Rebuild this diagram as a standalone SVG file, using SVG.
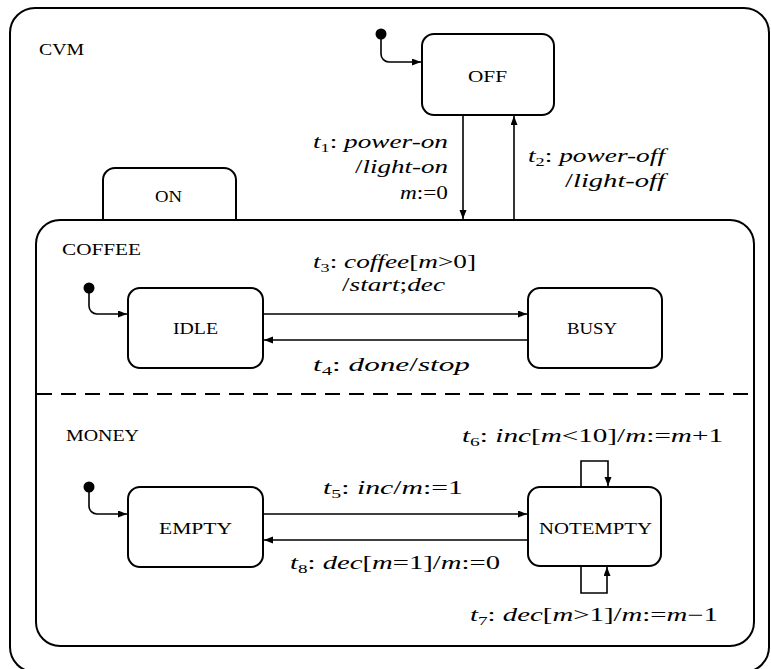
<svg xmlns="http://www.w3.org/2000/svg" width="771" height="669" viewBox="0 0 771 669">
  <style>
    .frame { fill: none; stroke: #000; stroke-width: 2; }
    .state { fill: #fff; stroke: #000; stroke-width: 2; }
    .wire { fill: none; stroke: #000; stroke-width: 1.6; }
    .dash { fill: none; stroke: #000; stroke-width: 2; stroke-dasharray: 15 9; }
    .cap { font-family: "Liberation Serif", "Times New Roman", serif; font-size: 16px; fill: #000; }
    .lab { font-family: "Liberation Serif", "Times New Roman", serif; font-size: 18px; fill: #000; }
    .i { font-style: italic; }
    .sub { font-size: 12px; }
  </style>
  <defs>
    <marker id="arrow" markerUnits="userSpaceOnUse" markerWidth="10" markerHeight="8" refX="9" refY="3.5" orient="auto">
      <path d="M0,0 L9,3.5 L0,7 z" fill="#000"/>
    </marker>
  </defs>

  <rect width="771" height="669" fill="#fff"/>

  <!-- top-level machine -->
  <g id="cvm">
    <rect class="frame" x="10" y="8" width="759" height="664" rx="25" ry="25"/>
    <text class="cap" x="39" y="55" textLength="45" lengthAdjust="spacingAndGlyphs">CVM</text>
  </g>

  <g id="off">
    <rect class="state" x="422" y="34" width="132" height="81" rx="12" ry="12"/>
    <text class="cap" x="468" y="82" textLength="39" lengthAdjust="spacingAndGlyphs">OFF</text>
  </g>

  <!-- composite state with two orthogonal regions -->
  <g id="on">
    <path class="frame" d="M103,220 V180 A12,12 0 0 1 115,168 H224 A12,12 0 0 1 236,180 V220"/>
    <text class="cap" x="155" y="202" textLength="27" lengthAdjust="spacingAndGlyphs">ON</text>
    <rect class="frame" x="36" y="220" width="718" height="426" rx="24" ry="24"/>
    <line class="dash" x1="37" y1="394" x2="753" y2="394"/>
  </g>

  <g id="coffee-region">
    <text class="cap" x="62" y="255" textLength="79" lengthAdjust="spacingAndGlyphs">COFFEE</text>
  </g>
  <g id="money-region">
    <text class="cap" x="66" y="441" textLength="73" lengthAdjust="spacingAndGlyphs">MONEY</text>
  </g>

  <g id="idle">
    <rect class="state" x="128" y="288" width="135" height="80" rx="12" ry="12"/>
    <text class="cap" x="173" y="334" textLength="45" lengthAdjust="spacingAndGlyphs">IDLE</text>
  </g>
  <g id="busy">
    <rect class="state" x="528" y="288" width="134" height="80" rx="12" ry="12"/>
    <text class="cap" x="567" y="334" textLength="50" lengthAdjust="spacingAndGlyphs">BUSY</text>
  </g>
  <g id="empty">
    <rect class="state" x="128" y="487" width="135" height="80" rx="12" ry="12"/>
    <text class="cap" x="159" y="534" textLength="73" lengthAdjust="spacingAndGlyphs">EMPTY</text>
  </g>
  <g id="notempty">
    <rect class="state" x="528" y="487" width="133" height="79" rx="12" ry="12"/>
    <text class="cap" x="539" y="534" textLength="113" lengthAdjust="spacingAndGlyphs">NOTEMPTY</text>
  </g>

  <!-- initial pseudostates -->
  <g id="init-cvm"><circle cx="381" cy="34" r="5.5" fill="#000"/></g>
  <g id="init-coffee"><circle cx="89" cy="288" r="5.5" fill="#000"/></g>
  <g id="init-money"><circle cx="89" cy="487" r="5.5" fill="#000"/></g>

  <!-- transitions -->
  <g id="connectors">
    <path class="wire" d="M381,34 V54 A8,8 0 0 0 389,62 H421" marker-end="url(#arrow)"/>
    <path class="wire" d="M89,288 V306 A8,8 0 0 0 97,314 H127" marker-end="url(#arrow)"/>
    <path class="wire" d="M89,487 V506 A8,8 0 0 0 97,514 H127" marker-end="url(#arrow)"/>

    <!-- t1 / t2 -->
    <line class="wire" x1="463" y1="116" x2="463" y2="219" marker-end="url(#arrow)"/>
    <line class="wire" x1="514" y1="219" x2="514" y2="116" marker-end="url(#arrow)"/>
    <!-- t3 / t4 -->
    <line class="wire" x1="264" y1="314" x2="527" y2="314" marker-end="url(#arrow)"/>
    <line class="wire" x1="527" y1="340" x2="264" y2="340" marker-end="url(#arrow)"/>
    <!-- t5 / t8 -->
    <line class="wire" x1="264" y1="514" x2="527" y2="514" marker-end="url(#arrow)"/>
    <line class="wire" x1="527" y1="540" x2="264" y2="540" marker-end="url(#arrow)"/>
    <!-- t6 / t7 self loops -->
    <path class="wire" d="M581,486 V461 H608 V486" marker-end="url(#arrow)"/>
    <path class="wire" d="M581,567 V593 H607 V567" marker-end="url(#arrow)"/>
  </g>

  <!-- transition labels -->
  <g id="labels">
    <text class="lab" x="313" y="148" textLength="135" lengthAdjust="spacingAndGlyphs"><tspan class="i">t</tspan><tspan class="sub" dy="4">1</tspan><tspan dy="-4">: </tspan><tspan class="i">power-on</tspan></text>
    <text class="lab" x="355" y="173" textLength="93" lengthAdjust="spacingAndGlyphs">/<tspan class="i">light-on</tspan></text>
    <text class="lab" x="400" y="199" textLength="48" lengthAdjust="spacingAndGlyphs"><tspan class="i">m</tspan>:=0</text>

    <text class="lab" x="528" y="162" textLength="137" lengthAdjust="spacingAndGlyphs"><tspan class="i">t</tspan><tspan class="sub" dy="4">2</tspan><tspan dy="-4">: </tspan><tspan class="i">power-off</tspan></text>
    <text class="lab" x="565" y="187" textLength="100" lengthAdjust="spacingAndGlyphs">/<tspan class="i">light-off</tspan></text>

    <text class="lab" x="313" y="268" textLength="163" lengthAdjust="spacingAndGlyphs"><tspan class="i">t</tspan><tspan class="sub" dy="4">3</tspan><tspan dy="-4">: </tspan><tspan class="i">coffee</tspan>[<tspan class="i">m</tspan>&gt;0]</text>
    <text class="lab" x="342" y="291" textLength="103" lengthAdjust="spacingAndGlyphs">/<tspan class="i">start</tspan>;<tspan class="i">dec</tspan></text>

    <text class="lab" x="313" y="371" textLength="157" lengthAdjust="spacingAndGlyphs"><tspan class="i">t</tspan><tspan class="sub" dy="4">4</tspan><tspan dy="-4">: </tspan><tspan class="i">done</tspan>/<tspan class="i">stop</tspan></text>

    <text class="lab" x="462" y="442" textLength="261" lengthAdjust="spacingAndGlyphs"><tspan class="i">t</tspan><tspan class="sub" dy="4">6</tspan><tspan dy="-4">: </tspan><tspan class="i">inc</tspan>[<tspan class="i">m</tspan>&lt;10]/<tspan class="i">m</tspan>:=<tspan class="i">m</tspan>+1</text>

    <text class="lab" x="323" y="494" textLength="140" lengthAdjust="spacingAndGlyphs"><tspan class="i">t</tspan><tspan class="sub" dy="4">5</tspan><tspan dy="-4">: </tspan><tspan class="i">inc</tspan>/<tspan class="i">m</tspan>:=1</text>

    <text class="lab" x="290" y="569" textLength="210" lengthAdjust="spacingAndGlyphs"><tspan class="i">t</tspan><tspan class="sub" dy="4">8</tspan><tspan dy="-4">: </tspan><tspan class="i">dec</tspan>[<tspan class="i">m</tspan>=1]/<tspan class="i">m</tspan>:=0</text>

    <text class="lab" x="470" y="621" textLength="248" lengthAdjust="spacingAndGlyphs"><tspan class="i">t</tspan><tspan class="sub" dy="4">7</tspan><tspan dy="-4">: </tspan><tspan class="i">dec</tspan>[<tspan class="i">m</tspan>&gt;1]/<tspan class="i">m</tspan>:=<tspan class="i">m</tspan>−1</text>
  </g>
</svg>
